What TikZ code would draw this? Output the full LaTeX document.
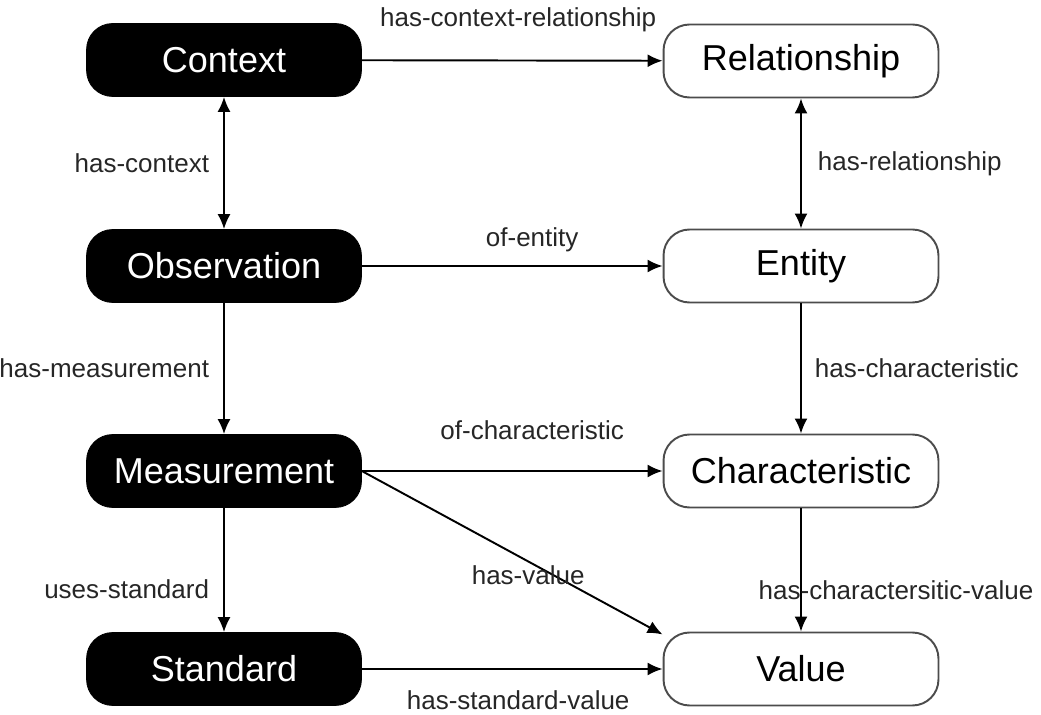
\documentclass[tikz,border=0pt]{standalone}
\usepackage{fontspec}
\setmainfont{Liberation Sans}
\usepackage{tikz}
\usetikzlibrary{arrows.meta}
\usetikzlibrary{calc}

\begin{document}
\begin{tikzpicture}[x=0.02cm,y=-0.02cm,
  cls/.style={rectangle,rounded corners=0.52cm,minimum width=5.5cm,minimum height=1.46cm,inner sep=0pt,font=\fontsize{20.5}{24}\selectfont},
  dark/.style={cls,fill=black,draw=black,text=white},
  light/.style={cls,fill=white,draw=black!70,line width=1.1pt,text=black},
  rel/.style={-{Latex[length=0.3cm,width=0.26cm]},line width=1.1pt},
  both/.style={{Latex[length=0.3cm,width=0.26cm]}-{Latex[length=0.3cm,width=0.26cm]},line width=1.1pt},
  lbl/.style={inner sep=0pt,text=black!85,font=\fontsize{14.8}{17}\selectfont}]
\useasboundingbox (0,0) rectangle (1041,715);
\node[dark] (ctx) at (224,60) {Context};
\node[dark] (obs) at (224,266) {Observation};
\node[dark] (meas) at (224,471) {Measurement};
\node[dark] (std) at (224,669) {Standard};
\node[light] (rship) at (801,61) {Relationship};
\node[light] (ent) at (801,266) {Entity};
\node[light] (char) at (801,471) {Characteristic};
\node[light] (val) at (801,669) {Value};
\draw[rel] (ctx) -- (rship) node[lbl,midway,yshift=0.82cm,xshift=0.12cm] {has-context-relationship};
\draw[both] (ctx) -- (obs) node[lbl,midway,left=0.28cm] {has-context};
\draw[both] (rship) -- (ent) node[lbl,midway,right=0.32cm] {has-relationship};
\draw[rel] (obs) -- (ent) node[lbl,midway,yshift=0.52cm,xshift=0.4cm] {of-entity};
\draw[rel] (obs) -- (meas) node[lbl,midway,left=0.28cm] {has-measurement};
\draw[rel] (ent) -- (char) node[lbl,midway,right=0.26cm] {has-characteristic};
\draw[rel] (meas) -- (char) node[lbl,midway,yshift=0.82cm,xshift=0.4cm] {of-characteristic};
\draw[rel] (meas.east) -- (val.166) node[lbl,midway,xshift=0.32cm,yshift=-0.45cm] {has-value};
\draw[rel] (meas) -- (std) node[lbl,midway,left=0.28cm,yshift=-0.38cm] {uses-standard};
\draw[rel] (char) -- (val) node[lbl,midway,xshift=1.9cm,yshift=-0.4cm] {has-charactersitic-value};
\draw[rel] (std) -- (val) node[lbl,midway,yshift=-0.62cm,xshift=0.12cm] {has-standard-value};
\end{tikzpicture}
\end{document}
